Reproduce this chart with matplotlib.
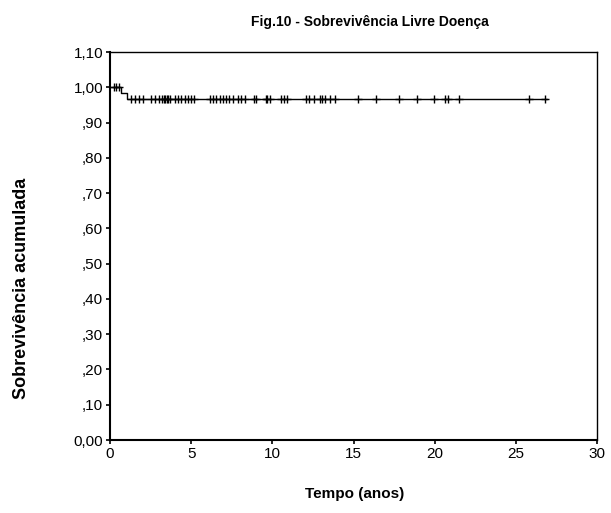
import matplotlib
matplotlib.use("Agg")
import matplotlib.pyplot as plt
import numpy as np

plt.rcParams['font.family'] = ['Liberation Sans', 'DejaVu Sans']

# Kaplan-Meier step curve (time in years, cumulative survival)
step_times = [0.0, 0.65, 1.05, 26.9]
step_surv = [1.00, 0.984, 0.967, 0.967]

# censored observations
censor_early = [0.25, 0.4, 0.55]
censor_early_surv = 1.00
censor_times = [1.3, 1.55, 1.8, 2.05, 2.55, 2.8, 3.0, 3.2, 3.3, 3.4, 3.5, 3.6, 3.7,
                4.0, 4.2, 4.4, 4.6, 4.8, 5.0, 5.2, 6.15, 6.35, 6.55, 6.75, 6.95, 7.15,
                7.35, 7.55, 7.9, 8.05, 8.3, 8.85, 9.0, 9.6, 9.7, 9.85, 10.55, 10.7,
                10.9, 12.05, 12.25, 12.55, 12.95, 13.05, 13.25, 13.55, 13.85, 15.3,
                16.4, 17.8, 18.9, 19.95, 20.65, 20.8, 21.5, 25.8, 26.8]
censor_surv = 0.967

yticks = np.arange(0, 1.101, 0.1)
ytick_labels = ['0,00', ',10', ',20', ',30', ',40', ',50', ',60', ',70', ',80', ',90', '1,00', '1,10']
xticks = [0, 5, 10, 15, 20, 25, 30]

fig = plt.figure(figsize=(6.11, 5.13), dpi=100)
ax = fig.add_axes([110/611, 1 - 440/513, (597-110)/611, (440-52)/513])

ax.step(step_times, step_surv, where='post', color='black', lw=1.0)
ax.plot(censor_early, [censor_early_surv]*len(censor_early), linestyle='none', marker='+',
        color='black', markersize=6, mew=1.0)
ax.plot(censor_times, [censor_surv]*len(censor_times), linestyle='none', marker='+',
        color='black', markersize=6, mew=1.0)

ax.set_xlim(0, 30)
ax.set_ylim(0, 1.1)
ax.set_xticks(xticks)
ax.set_xticklabels([str(x) for x in xticks])
ax.set_yticks(yticks)
ax.set_yticklabels(ytick_labels)
ax.tick_params(direction='out', length=3, width=1.2, labelsize=11, pad=2)
for s in ax.spines.values():
    s.set_linewidth(1.0)
ax.spines['left'].set_linewidth(1.5)
ax.spines['bottom'].set_linewidth(1.5)

fig.text(355/611, 1 - 494/513, 'Tempo (anos)', ha='center', va='center',
         fontsize=11, fontweight='bold')
fig.text(22/611, 1 - 288/513, 'Sobrevivência acumulada', ha='center', va='center',
         rotation=90, fontsize=13, fontweight='bold')
fig.text(370/611, 1 - 22/513, 'Fig.10 - Sobrevivência Livre Doença', ha='center', va='center',
         fontsize=10, fontweight='bold')

fig.savefig('out.png', dpi=100)
